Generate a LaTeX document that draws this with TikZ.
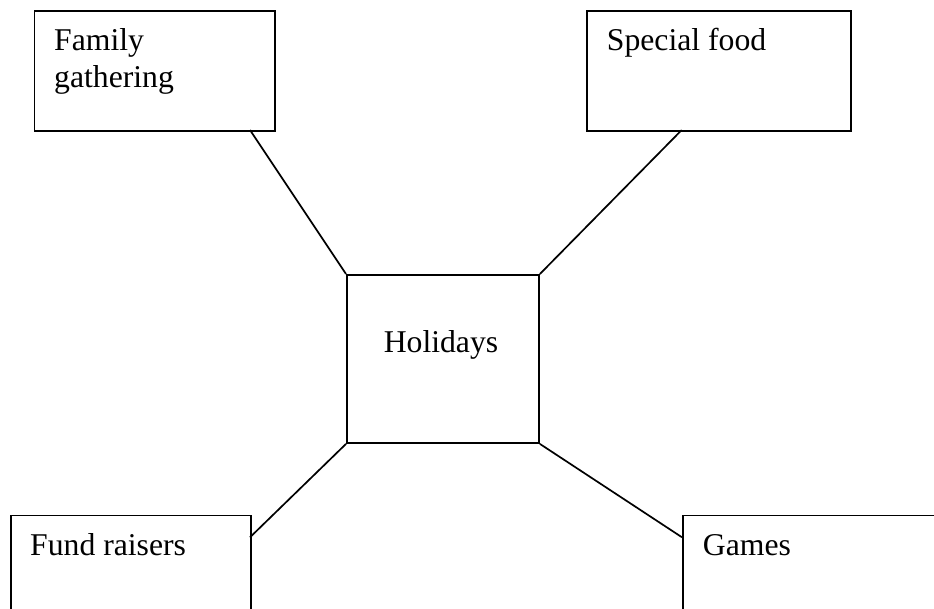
\documentclass[tikz,border=0pt]{standalone}
\usepackage{fontspec}
\setmainfont{Liberation Serif}
\begin{document}
\begin{tikzpicture}[x=1pt,y=-1pt,
  boxstyle/.style={draw=black, line width=1.9pt},
  linkstyle/.style={draw=black, line width=1.7pt},
  txt/.style={inner sep=0pt, anchor=base west, font=\fontsize{31.7}{37}\selectfont, align=left}]
\useasboundingbox (0,0) rectangle (934,608);
\clip (0,0) rectangle (934,608);
\fill[white] (0,0) rectangle (934,608);
% boxes
\node[boxstyle, inner sep=0pt, anchor=north west, minimum width=240.5pt, minimum height=120pt] (fam) at (33.5,10) {};
\node[boxstyle, inner sep=0pt, anchor=north west, minimum width=264pt, minimum height=120pt] (spf) at (586,10) {};
\node[boxstyle, inner sep=0pt, anchor=north west, minimum width=192pt, minimum height=168pt] (hol) at (346,274) {};
\node[boxstyle, inner sep=0pt, anchor=north west, minimum width=240pt, minimum height=120pt] (fund) at (10,514.5) {};
\node[boxstyle, inner sep=0pt, anchor=north west, minimum width=280pt, minimum height=120pt] (games) at (682,514.5) {};
% texts
\node[txt] (famt) at (54,87) {Family\\gathering};
\node[txt] (spft) at (606.7,50.7) {Special food};
\node[txt, anchor=base] (holt) at (441,352) {Holidays};
\node[txt] (fundt) at (30,555) {Fund raisers};
\node[txt] (gamest) at (702.7,555) {Games};
% connector end points on box edges
\coordinate (famc) at (250,130);
\coordinate (spfc) at (681.7,130);
\coordinate (fundc) at (250,537.3);
\coordinate (gamesc) at (682,537.3);
\draw[linkstyle] (famc) -- (hol.north west);
\draw[linkstyle] (spfc) -- (hol.north east);
\draw[linkstyle] (hol.south west) -- (fundc);
\draw[linkstyle] (hol.south east) -- (gamesc);
\end{tikzpicture}
\end{document}
